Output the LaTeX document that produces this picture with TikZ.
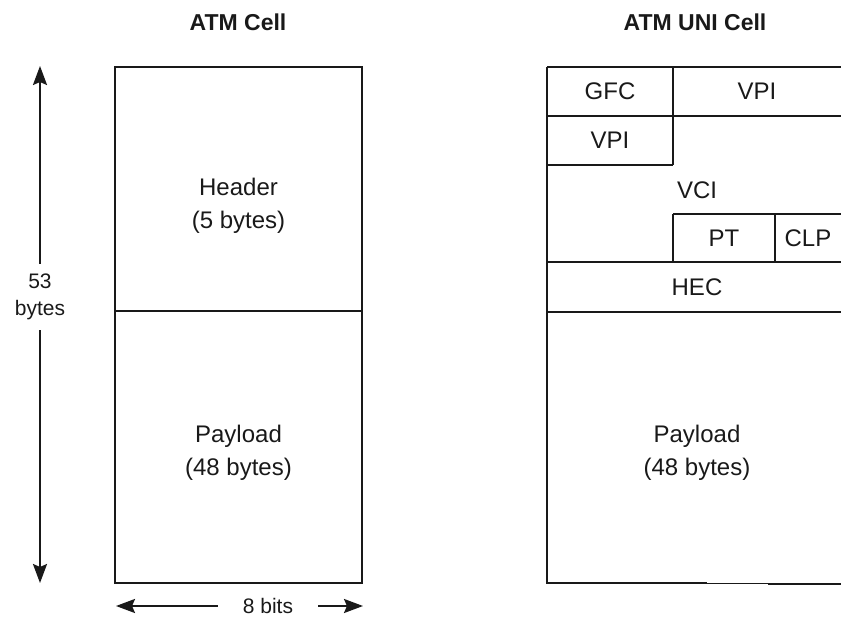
\documentclass[tikz,border=0pt]{standalone}
\usepackage{fontspec}
\setmainfont{Liberation Sans}
\usetikzlibrary{arrows.meta}
\definecolor{ink}{RGB}{25,25,25}
\begin{document}
\begin{tikzpicture}[x=1pt,y=-1pt,
  cell/.style={draw=ink, line width=2.2pt},
  thinline/.style={draw=ink, line width=0.8pt},
  lbl/.style={font=\fontsize{24}{33}\selectfont, align=center, inner sep=0pt, text=ink},
  small/.style={font=\fontsize{21}{27}\selectfont, align=center, inner sep=0pt, text=ink},
  ttl/.style={font=\fontsize{23}{27}\selectfont\bfseries, inner sep=0pt, text=ink},
  dimarrow/.style={line width=2.2pt, draw=ink, -{Stealth[length=19pt,width=14pt,inset=3pt]}}]
\useasboundingbox (0,0) rectangle (841,640);
% titles
\node[ttl] (t1) at (238,22) {ATM Cell};
\node[ttl] (t2) at (695,22) {ATM UNI Cell};
% left cell
\draw[cell] (115,67) rectangle (362,583);
\draw[cell] (115,311) -- (362,311);
\node[lbl] (hdr) at (238.5,206) {Header\\(5 bytes)};
\node[lbl] (pay) at (238.5,453) {Payload\\(48 bytes)};
% dimension arrows
\coordinate (vt) at (40,66);
\coordinate (vb) at (40,583);
\node[small, minimum height=66pt] (n53) at (40,297) {53\\bytes};
\draw[dimarrow] (n53.north) -- (vt);
\draw[dimarrow] (n53.south) -- (vb);
\coordinate (hl) at (116,606);
\coordinate (hr) at (363,606);
\node[small, minimum width=100pt] (n8) at (268,606) {8 bits};
\draw[dimarrow] (n8.west) -- (hl);
\draw[dimarrow] (n8.east) -- (hr);
% right cell
\draw[cell] (547,67) -- (841,67);
\draw[cell] (547,116) -- (841,116);
\draw[cell] (673,67) -- (673,165);
\draw[cell] (547,165) -- (673,165);
\draw[cell] (673,214) -- (841,214);
\draw[cell] (673,214) -- (673,262);
\draw[cell] (775,214) -- (775,262);
\draw[cell] (547,262) -- (841,262);
\draw[cell] (547,312) -- (841,312);
\draw[cell] (547,67) -- (547,583) -- (707,583);
\draw[thinline] (707,583) -- (768,583);
\draw[cell] (768,584) -- (841,584);
\node[lbl] (gfc) at (610,91) {GFC};
\node[lbl] (vpi1) at (757,91) {VPI};
\node[lbl] (vpi2) at (610,140) {VPI};
\node[lbl] (vci) at (697,190) {VCI};
\node[lbl] (pt) at (724,238) {PT};
\node[lbl] (clp) at (808,238) {CLP};
\node[lbl] (hec) at (697,287) {HEC};
\node[lbl] (pay2) at (697,453) {Payload\\(48 bytes)};
\end{tikzpicture}
\end{document}
